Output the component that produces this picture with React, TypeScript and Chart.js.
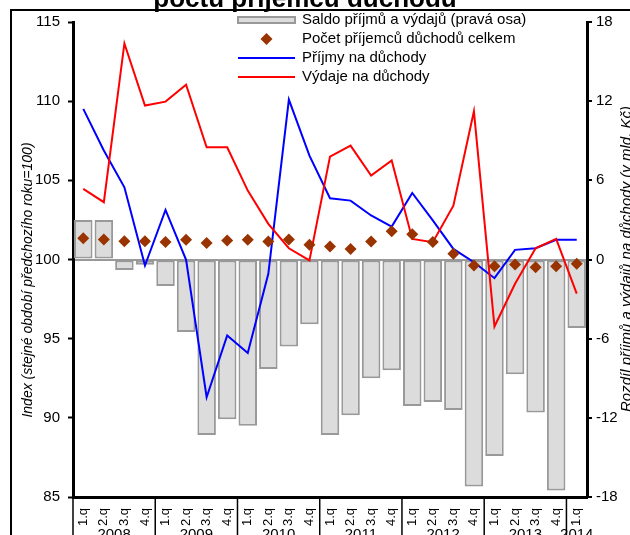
import React, { useEffect, useRef } from "react";
import { Chart, registerables } from "chart.js";
Chart.register(...registerables);

const quarters = [
  "1.q", "2.q", "3.q", "4.q",
  "1.q", "2.q", "3.q", "4.q",
  "1.q", "2.q", "3.q", "4.q",
  "1.q", "2.q", "3.q", "4.q",
  "1.q", "2.q", "3.q", "4.q",
  "1.q", "2.q", "3.q", "4.q",
  "1.q",
];
const years = ["2008", "2009", "2010", "2011", "2012", "2013", "2014"];
const quartersPerYear = [4, 4, 4, 4, 4, 4, 1];

const saldo = [3.0, 3.0, -0.8, -0.4, -2.0, -5.5, -13.3, -12.1, -12.6, -8.3, -6.6, -4.9, -13.3, -11.8, -9.0, -8.4, -11.1, -10.8, -11.4, -17.2, -14.9, -8.7, -11.6, -17.5, -5.2];
const pocet = [101.34, 101.26, 101.16, 101.16, 101.1, 101.24, 101.05, 101.2, 101.24, 101.14, 101.26, 100.93, 100.82, 100.67, 101.14, 101.79, 101.6, 101.11, 100.36, 99.62, 99.58, 99.68, 99.51, 99.58, 99.73];
const prijmy = [109.51, 106.88, 104.56, 99.62, 103.13, 99.98, 91.3, 95.2, 94.1, 99.1, 110.1, 106.56, 103.87, 103.72, 102.78, 102.08, 104.2, 102.47, 100.67, 99.83, 98.82, 100.61, 100.71, 101.24, 101.24];
const vydaje = [104.46, 103.62, 113.65, 109.72, 109.97, 111.04, 107.09, 107.09, 104.35, 102.25, 100.71, 99.94, 106.5, 107.19, 105.3, 106.25, 101.3, 101.09, 103.4, 109.36, 95.77, 98.47, 100.71, 101.3, 97.84];

const leftTicks = [85, 90, 95, 100, 105, 110, 115];
const rightTicks = [-18, -12, -6, 0, 6, 12, 18];

const titleText = "počtu příjemců důchodů";
const leftTitle = "Index (stejné období předchozího roku=100)";
const rightTitle = "Rozdíl příjmů a výdajů na důchody (v mld. Kč)";
const legendLabels = [
  "Saldo příjmů a výdajů (pravá osa)",
  "Počet příjemců důchodů celkem",
  "Příjmy na důchody",
  "Výdaje na důchody",
];

const FONT = "'Liberation Sans', Arial, sans-serif";
const GRAY_FILL = "#dcdcdc";
const GRAY_BORDER = "#999999";
const BROWN = "#993300";

const overlayPlugin = {
  id: "overlay",
  afterDraw(chart: any) {
    const ctx = chart.ctx as CanvasRenderingContext2D;
    const x = chart.scales.x;
    const area = chart.chartArea;
    ctx.save();

    // frame
    ctx.strokeStyle = "#000";
    ctx.lineWidth = 2;
    ctx.beginPath();
    ctx.moveTo(11, 540);
    ctx.lineTo(11, 10);
    ctx.lineTo(640, 10);
    ctx.stroke();

    // title (cut off at top)
    ctx.fillStyle = "#000";
    ctx.font = `bold 26px ${FONT}`;
    ctx.textAlign = "center";
    ctx.textBaseline = "alphabetic";
    ctx.fillText(titleText, 305, 7);

    // axis titles
    ctx.save();
    ctx.font = `italic 14px ${FONT}`;
    ctx.translate(32, 280);
    ctx.rotate(-Math.PI / 2);
    ctx.textAlign = "center";
    ctx.fillText(leftTitle, 0, 0);
    ctx.restore();
    ctx.save();
    ctx.font = `italic 15px ${FONT}`;
    ctx.translate(631, 259);
    ctx.rotate(-Math.PI / 2);
    ctx.textAlign = "center";
    ctx.fillText(rightTitle, 0, 0);
    ctx.restore();

    // year separators and labels
    const w = x.getPixelForValue(1) - x.getPixelForValue(0);
    ctx.strokeStyle = "#000";
    ctx.lineWidth = 1.5;
    let start = 0;
    ctx.font = `15px ${FONT}`;
    ctx.textAlign = "center";
    years.forEach((yr, i) => {
      const n = quartersPerYear[i];
      const left = x.getPixelForValue(start) - w / 2;
      ctx.beginPath();
      ctx.moveTo(left, area.bottom);
      ctx.lineTo(left, 540);
      ctx.stroke();
      const cx = (x.getPixelForValue(start) + x.getPixelForValue(start + n - 1)) / 2;
      ctx.fillText(yr, cx, 539);
      start += n;
    });

    // legend
    const lx0 = 238, lx1 = 295, tx = 302;
    const rows = [20, 39, 58, 77];
    ctx.font = `15px ${FONT}`;
    ctx.textAlign = "left";
    ctx.textBaseline = "middle";
    ctx.fillStyle = GRAY_FILL;
    ctx.strokeStyle = GRAY_BORDER;
    ctx.lineWidth = 2;
    ctx.fillRect(lx0, rows[0] - 3, lx1 - lx0, 6);
    ctx.strokeRect(lx0, rows[0] - 3, lx1 - lx0, 6);
    ctx.fillStyle = BROWN;
    const dcx = (lx0 + lx1) / 2;
    ctx.beginPath();
    ctx.moveTo(dcx, rows[1] - 6);
    ctx.lineTo(dcx + 6, rows[1]);
    ctx.lineTo(dcx, rows[1] + 6);
    ctx.lineTo(dcx - 6, rows[1]);
    ctx.closePath();
    ctx.fill();
    ctx.lineWidth = 2;
    ctx.strokeStyle = "#0000ff";
    ctx.beginPath();
    ctx.moveTo(lx0, rows[2]);
    ctx.lineTo(lx1, rows[2]);
    ctx.stroke();
    ctx.strokeStyle = "#ff0000";
    ctx.beginPath();
    ctx.moveTo(lx0, rows[3]);
    ctx.lineTo(lx1, rows[3]);
    ctx.stroke();
    ctx.fillStyle = "#000";
    legendLabels.forEach((t, i) => ctx.fillText(t, tx, rows[i]));

    ctx.restore();
  },
};

export default function App() {
  const ref = useRef<HTMLCanvasElement>(null);
  useEffect(() => {
    document.body.style.margin = "0";
    const canvas = ref.current!;
    const chart = new Chart(canvas, {
      data: {
        labels: quarters,
        datasets: [
          {
            type: "line",
            label: legendLabels[1],
            data: pocet,
            yAxisID: "y",
            showLine: false,
            pointStyle: "rectRot",
            pointRadius: 6,
            pointBackgroundColor: BROWN,
            pointBorderColor: BROWN,
            pointBorderWidth: 0,
            order: 0,
          },
          {
            type: "line",
            label: legendLabels[3],
            data: vydaje,
            yAxisID: "y",
            borderColor: "#ff0000",
            borderWidth: 2,
            pointRadius: 0,
            tension: 0,
            order: 1,
          },
          {
            type: "line",
            label: legendLabels[2],
            data: prijmy,
            yAxisID: "y",
            borderColor: "#0000ff",
            borderWidth: 2,
            pointRadius: 0,
            tension: 0,
            order: 2,
          },
          {
            type: "bar",
            label: legendLabels[0],
            data: saldo,
            yAxisID: "y1",
            backgroundColor: GRAY_FILL,
            borderColor: GRAY_BORDER,
            borderWidth: 2,
            borderSkipped: false,
            barPercentage: 0.9,
            categoryPercentage: 1,
            order: 3,
          },
        ],
      } as any,
      options: {
        responsive: false,
        animation: false,
        devicePixelRatio: 1,
        layout: { padding: { top: 22, left: 0, right: 0, bottom: 0 } },
        plugins: { legend: { display: false }, tooltip: { enabled: false }, title: { display: false } },
        scales: {
          x: {
            type: "category",
            grid: { display: false },
            border: { color: "#000", width: 3 },
            ticks: {
              autoSkip: false,
              minRotation: 90,
              maxRotation: 90,
              padding: 3,
              color: "#000",
              font: { family: FONT, size: 13 },
            },
            afterFit: (s: any) => { s.height = 38; },
          },
          y: {
            type: "linear",
            position: "left",
            min: 85,
            max: 115,
            afterBuildTicks: (s: any) => { s.ticks = leftTicks.map((v) => ({ value: v })); },
            grid: { drawOnChartArea: false, drawTicks: true, tickLength: 5, tickColor: "#000", tickWidth: 2 },
            border: { color: "#000", width: 3 },
            ticks: { padding: 8, color: "#000", font: { family: FONT, size: 15 } },
            afterFit: (s: any) => { s.width = 73; },
          },
          y1: {
            type: "linear",
            position: "right",
            min: -18,
            max: 18,
            afterBuildTicks: (s: any) => { s.ticks = rightTicks.map((v) => ({ value: v })); },
            grid: {
              drawOnChartArea: true,
              drawTicks: true,
              tickLength: 5,
              tickColor: "#000",
              tickWidth: 2,
              lineWidth: 2,
              color: (c: any) => (c.tick && c.tick.value === 0 ? GRAY_BORDER : "rgba(0,0,0,0)"),
            },
            border: { color: "#000", width: 3 },
            ticks: { padding: 4, crossAlign: "near", color: "#000", font: { family: FONT, size: 15 } },
            afterFit: (s: any) => { s.width = 43; },
          },
        },
      } as any,
      plugins: [overlayPlugin],
    });
    return () => chart.destroy();
  }, []);
  return (
    <div style={{ position: "absolute", left: 0, top: 0, width: 630, height: 535, overflow: "hidden", background: "#fff" }}>
      <canvas ref={ref} width={630} height={535} style={{ width: 630, height: 535, display: "block" }} />
    </div>
  );
}
